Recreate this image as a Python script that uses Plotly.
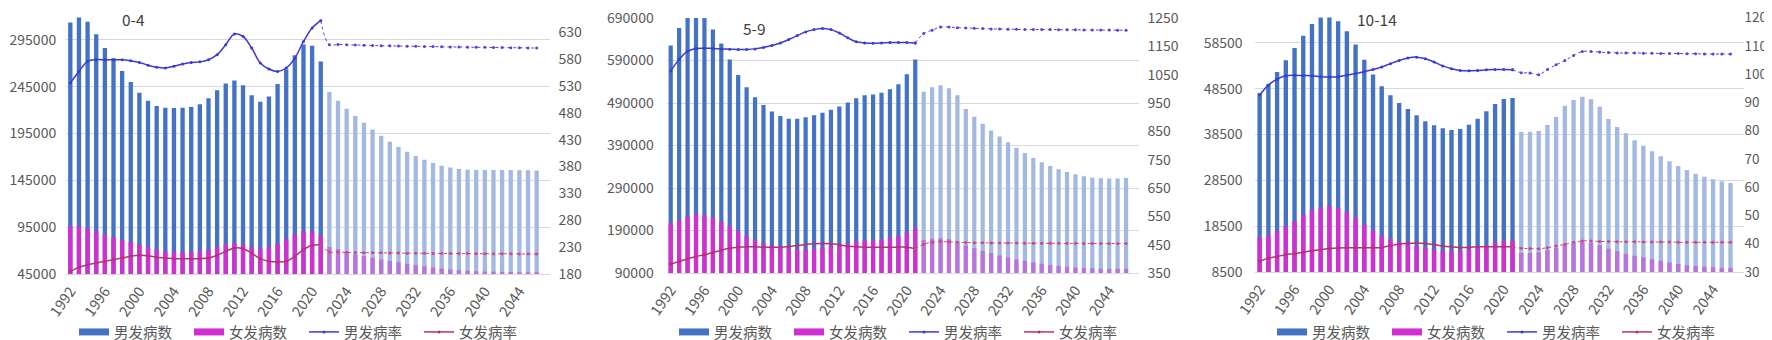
import plotly.graph_objects as go

# ---------------- data ----------------
years = list(range(1992, 2047))
last_observed_year = 2021
tick_years = list(range(1992, 2045, 4))
panel_titles = ["0-4", "5-9", "10-14"]
legend_names = ["男发病数", "女发病数", "男发病率", "女发病率"]

# 0-4
male_cases_0_4 = [313500, 318900, 314200, 301000, 286400, 275400, 261800, 250000, 238600, 230100,
                  224400, 222600, 222200, 222600, 223300, 226200, 232600, 241100, 248300, 251500,
                  246500, 235800, 229000, 234400, 247900, 263600, 278600, 290000, 288600, 271800,
                  239300, 230100, 221500, 213700, 206500, 199400, 192600, 186200, 180500, 175500,
                  170900, 167000, 163400, 160500, 158800, 157000, 156300, 156000, 156000, 156000,
                  156000, 156000, 155900, 155800, 155500]
female_cases_0_4 = [96000, 96000, 94200, 90600, 87100, 84200, 81700, 79200, 76400, 73500,
                    71000, 69200, 68500, 68200, 68500, 69200, 71000, 73500, 76400, 77800,
                    76400, 73500, 72100, 73500, 77100, 82400, 87100, 90600, 90600, 85300,
                    73700, 71400, 68400, 66000, 64000, 62300, 60600, 59000, 57500, 56000,
                    54500, 53300, 52000, 50800, 49800, 49000, 48400, 48000, 47700, 47500,
                    47300, 47100, 47000, 46900, 46800]
male_rate_0_4 = [535.7, 557, 576, 579, 579, 579, 579, 577, 574, 568.6,
                 565, 563.6, 567, 571, 574, 575, 579, 588.4, 607, 627,
                 622.6, 600.8, 573, 561.7, 557, 563.6, 582, 613, 638, 651.7,
                 607, 607.5, 607, 606.5, 606, 605.5, 605, 604.8, 604.5, 604.2,
                 604, 603.7, 603.4, 603.1, 602.9, 602.6, 602.4, 602.2, 602, 601.8,
                 601.6, 601.4, 601.2, 601, 600.6]
female_rate_0_4 = [185, 192.4, 197.4, 200.5, 203.6, 206.7, 209.8, 212.9, 214.8, 214,
                   211, 209.8, 208.6, 208.6, 208.6, 208.6, 209.8, 214.8, 222.2, 228.4,
                   227, 219, 208.6, 203.6, 202.3, 203.6, 212.9, 225.3, 233.4, 234.6,
                   221, 220.6, 220.3, 220, 219.8, 219.6, 219.4, 219.2, 219, 218.8,
                   218.6, 218.5, 218.4, 218.3, 218.2, 218.1, 218, 217.9, 217.8, 217.7,
                   217.6, 217.5, 217.4, 217.3, 217.2]

# 5-9
male_cases_5_9 = [625300, 666600, 700000, 705000, 700000, 662700, 630000, 592600, 556000, 527100,
                  503800, 485100, 470200, 459300, 453100, 453100, 456200, 460900, 467100, 474100,
                  481900, 491300, 501400, 508400, 510000, 513900, 522500, 534100, 557500, 592600,
                  516200, 527100, 531800, 524800, 508400, 475700, 457800, 441400, 425100, 411000,
                  397800, 384500, 372100, 360400, 350300, 341700, 333900, 327700, 322200, 317500,
                  314400, 312900, 312100, 312100, 313600]
female_cases_5_9 = [206900, 214700, 223200, 228700, 226400, 220100, 210800, 201400, 189000, 177300,
                    167900, 160100, 154700, 150800, 146900, 144500, 145300, 146900, 150000, 153100,
                    156200, 160100, 164000, 166400, 167100, 168700, 173400, 177300, 185800, 195200,
                    167900, 170300, 171800, 169500, 164000, 154700, 148400, 142200, 136800, 131300,
                    126600, 121900, 118800, 114900, 111800, 108700, 106400, 104800, 103200, 101700,
                    100900, 100100, 100100, 100100, 100100]
male_rate_5_9 = [1063, 1104, 1133, 1142.5, 1143.6, 1142.5, 1141, 1140, 1139, 1139,
                 1141, 1146, 1153, 1162, 1174, 1188, 1201, 1209, 1212.6, 1209,
                 1197, 1180, 1166, 1162, 1161, 1162, 1163.5, 1163.5, 1163.5, 1162,
                 1195, 1207, 1218, 1218, 1216, 1215, 1213.7, 1212.6, 1211.5, 1211,
                 1210.5, 1210, 1209.8, 1209.5, 1209.2, 1209, 1208.8, 1208.5, 1208.2, 1208,
                 1207.8, 1207.5, 1207.3, 1207.1, 1207]
female_rate_5_9 = [381.6, 390.9, 400.3, 408.4, 414.3, 422.5, 430.6, 437.7, 441.2, 442.3,
                   442.3, 441.2, 441.2, 441.2, 443.5, 447, 450.5, 452.9, 454, 452.9,
                   449.4, 444.7, 442.3, 441.2, 441.2, 441.2, 441.2, 441.2, 441.2, 435.3,
                   451.7, 458.7, 461, 459.9, 458.7, 457.5, 457, 456.5, 456.2, 456,
                   455.8, 455.6, 455.4, 455.2, 455, 454.9, 454.8, 454.7, 454.6, 454.5,
                   454.4, 454.3, 454.2, 454.1, 454]

# 10-14
male_cases_10_14 = [47580, 49550, 52170, 54720, 57410, 60100, 62650, 64100, 64470, 63230,
                    61050, 58140, 54860, 51590, 49040, 47070, 45400, 44090, 42710, 41400,
                    40520, 39870, 39500, 39720, 40670, 41980, 43580, 45180, 46270, 46490,
                    39070, 39140, 39290, 40600, 42340, 44820, 46050, 46780, 46200, 44600,
                    41910, 40160, 38780, 37250, 36080, 34850, 33750, 32660, 31640, 30770,
                    29970, 29320, 28730, 28300, 27930]
female_cases_10_14 = [16070, 16510, 17520, 18470, 19560, 21020, 22110, 22620, 22840, 22470,
                      21530, 20290, 18830, 17600, 16430, 15780, 15050, 14610, 14180, 13740,
                      13380, 13160, 13010, 13090, 13450, 13890, 14320, 14900, 15270, 15340,
                      12650, 12650, 12790, 13230, 13740, 14470, 14760, 14980, 14830, 14320,
                      13590, 13010, 12500, 12070, 11700, 11300, 10950, 10600, 10250, 9950,
                      9800, 9650, 9520, 9420, 9370]
male_rate_10_14 = [92.6, 96.1, 98.2, 99.4, 99.6, 99.5, 99.4, 99.1, 99.0, 99.1,
                   99.6, 100.2, 100.8, 101.6, 102.5, 103.7, 104.8, 105.7, 106, 105.4,
                   104.3, 102.9, 101.9, 101.3, 101.2, 101.3, 101.5, 101.6, 101.6, 101.5,
                   100.5, 100.4, 99.8, 101.6, 103.3, 104.8, 106.6, 108, 108, 107.8,
                   107.6, 107.5, 107.5, 107.5, 107.4, 107.4, 107.3, 107.3, 107.3, 107.2,
                   107.2, 107.1, 107.1, 107.1, 107.1]
female_rate_10_14 = [33.7, 34.9, 35.5, 36.1, 36.5, 37, 37.5, 37.9, 38.3, 38.5,
                     38.6, 38.6, 38.6, 38.6, 38.7, 39.3, 39.9, 40.1, 40.3, 40.1,
                     39.7, 39.2, 38.9, 38.7, 38.7, 38.9, 38.9, 38.9, 38.9, 38.9,
                     38.4, 38.3, 38.2, 38.6, 39.2, 39.8, 40.5, 41, 41, 40.8,
                     40.8, 40.7, 40.7, 40.7, 40.6, 40.6, 40.6, 40.6, 40.5, 40.5,
                     40.5, 40.5, 40.5, 40.5, 40.5]

male_cases = [male_cases_0_4, male_cases_5_9, male_cases_10_14]
female_cases = [female_cases_0_4, female_cases_5_9, female_cases_10_14]
male_rates = [male_rate_0_4, male_rate_5_9, male_rate_10_14]
female_rates = [female_rate_0_4, female_rate_5_9, female_rate_10_14]

# ---------------- layout / style ----------------
W, H = 1772, 340
FONT = "Noto Sans CJK SC, Noto Sans, sans-serif"
GRAY = "#595959"
X_TICK_SIZE = 14.5
Y_TICK_SIZE = 14
C_M = "#4472C4"
C_F = "#D22FD2"
C_M_FC = "#A4B9E1"
C_F_FC = "#B873DC"
C_MR = "#3B3BD4"
C_FR = "#B8336E"
C_MR_FC = "#4F44DA"
C_FR_FC = "#D2457C"

# pixel geometry of each panel: (left, right, top, bottom)
panel_px = [(58, 541.6, 0, 266), (658.5, 1130.7, 10, 265), (1247.3, 1735.6, 9.5, 264)]
left_ranges = [(45000, 329000), (90000, 690000), (8500, 64060)]
left_dticks = [50000, 100000, 10000]
right_ranges = [(180, 675.3), (350, 1250), (30, 120.02)]
right_dticks = [50, 100, 10]
left_ticklen = [6, 9, 9]
right_ticklen = [5, 5, 0]
title_px = [(125, 11), (746, 20), (1369, 11.5)]
legend_px = [66, 666, 1264]

hist_idx = [i for i, yv in enumerate(years) if yv <= last_observed_year]
fc_idx = [i for i, yv in enumerate(years) if yv > last_observed_year]
fc_line_idx = [i for i, yv in enumerate(years) if yv >= last_observed_year]


def sel(arr, idx):
    return [arr[i] for i in idx]


fig = go.Figure()
layout = dict(
    width=W, height=H, margin=dict(l=0, r=0, t=0, b=0, autoexpand=False),
    paper_bgcolor="white", plot_bgcolor="rgba(0,0,0,0)",
    barmode="overlay", font=dict(family=FONT, color=GRAY, size=13),
    annotations=[], hovermode=False,
)

for p in range(3):
    xa = "x" if p == 0 else f"x{p + 1}"
    ya = "y" if p == 0 else f"y{2 * p + 1}"
    ya2 = f"y{2 * p + 2}"
    lg = "legend" if p == 0 else f"legend{p + 1}"
    mc, fcs, mr, fr = male_cases[p], female_cases[p], male_rates[p], female_rates[p]

    # legend proxies for bar series (wide rectangle swatch)
    for name, col in ((legend_names[0], C_M), (legend_names[1], C_F)):
        fig.add_trace(go.Scatter(x=[None], y=[None], mode="lines", name=name,
                                 line=dict(color=col, width=7), xaxis=xa, yaxis=ya,
                                 legend=lg, showlegend=True))
    # bars
    fig.add_trace(go.Bar(x=sel(years, hist_idx), y=sel(mc, hist_idx), width=0.5,
                         marker=dict(color=C_M, line=dict(width=0)), xaxis=xa, yaxis=ya,
                         showlegend=False))
    fig.add_trace(go.Bar(x=sel(years, fc_idx), y=sel(mc, fc_idx), width=0.5,
                         marker=dict(color=C_M_FC, line=dict(width=0)), xaxis=xa, yaxis=ya,
                         showlegend=False))
    fig.add_trace(go.Bar(x=sel(years, hist_idx), y=sel(fcs, hist_idx), width=0.5,
                         marker=dict(color=C_F, line=dict(width=0)), xaxis=xa, yaxis=ya,
                         showlegend=False))
    fig.add_trace(go.Bar(x=sel(years, fc_idx), y=sel(fcs, fc_idx), width=0.5,
                         marker=dict(color=C_F_FC, line=dict(width=0)), xaxis=xa, yaxis=ya,
                         showlegend=False))
    # rate lines (historical: smooth solid; forecast: dotted)
    fig.add_trace(go.Scatter(x=sel(years, hist_idx), y=sel(mr, hist_idx), mode="lines+markers",
                             name=legend_names[2], line=dict(color=C_MR, width=1.5, shape="spline"),
                             marker=dict(size=3, color=C_MR), xaxis=xa, yaxis=ya2,
                             legend=lg, showlegend=True))
    fig.add_trace(go.Scatter(x=sel(years, hist_idx), y=sel(fr, hist_idx), mode="lines+markers",
                             name=legend_names[3], line=dict(color=C_FR, width=1.5, shape="spline"),
                             marker=dict(size=3, color=C_FR), xaxis=xa, yaxis=ya2,
                             legend=lg, showlegend=True))
    fig.add_trace(go.Scatter(x=sel(years, fc_line_idx), y=sel(mr, fc_line_idx), mode="lines+markers",
                             line=dict(color=C_MR_FC, width=1, dash="dot", shape="spline"),
                             marker=dict(size=3, color=C_MR_FC), xaxis=xa, yaxis=ya2,
                             showlegend=False))
    fig.add_trace(go.Scatter(x=sel(years, fc_line_idx), y=sel(fr, fc_line_idx), mode="lines+markers",
                             line=dict(color=C_FR_FC, width=1, dash="dot", shape="spline"),
                             marker=dict(size=3, color=C_FR_FC), xaxis=xa, yaxis=ya2,
                             showlegend=False))

    l, r, t, b = panel_px[p]
    xdom = [l / W, r / W]
    ydom = [1 - b / H, 1 - t / H]
    xkey = "xaxis" if p == 0 else f"xaxis{p + 1}"
    ykey = "yaxis" if p == 0 else f"yaxis{2 * p + 1}"
    y2key = f"yaxis{2 * p + 2}"
    layout[xkey] = dict(domain=xdom, anchor=ya, range=[1991.5, 2047.5], automargin=False,
                        tickmode="array", tickvals=tick_years,
                        ticktext=[str(v) for v in tick_years], tickangle=-55,
                        showgrid=False, zeroline=False, showline=True, linecolor="#D9D9D9",
                        ticks="outside", ticklen=2, tickcolor="rgba(0,0,0,0)",
                        tickfont=dict(size=X_TICK_SIZE, color=GRAY, family=FONT))
    layout[ykey] = dict(domain=ydom, anchor=xa, range=list(left_ranges[p]), automargin=False,
                        tick0=left_ranges[p][0], dtick=left_dticks[p], tickformat="d",
                        showgrid=True, gridcolor="#D9D9D9", gridwidth=1, zeroline=False,
                        showline=False, ticks="outside", ticklen=left_ticklen[p],
                        tickcolor="rgba(0,0,0,0)", ticklabeloverflow="allow",
                        tickfont=dict(size=Y_TICK_SIZE, color=GRAY, family=FONT))
    layout[y2key] = dict(overlaying=ya, anchor=xa, side="right", range=list(right_ranges[p]),
                         automargin=False, ticklabeloverflow="allow",
                         tick0=right_ranges[p][0], dtick=right_dticks[p], tickformat="d",
                         showgrid=False, zeroline=False, showline=False,
                         ticks="outside" if right_ticklen[p] > 0 else "",
                         ticklen=max(right_ticklen[p], 1), tickcolor="rgba(0,0,0,0)",
                         tickfont=dict(size=Y_TICK_SIZE if p < 2 else 13.5, color=GRAY, family=FONT))
    layout[lg] = dict(orientation="h", x=legend_px[p] / W, y=0,
                      xanchor="left", yanchor="bottom", bgcolor="rgba(0,0,0,0)",
                      font=dict(size=14.5, color=GRAY, family=FONT),
                      entrywidth=70, entrywidthmode="pixels", itemwidth=30,
                      traceorder="normal")
    tx, ty = title_px[p]
    layout["annotations"].append(dict(text=panel_titles[p], x=tx / W, y=1 - ty / H,
                                      xref="paper", yref="paper", showarrow=False,
                                      xanchor="center", yanchor="middle",
                                      font=dict(size=15.5, color="#404040", family=FONT)))

fig.update_layout(**layout)
fig.write_html("out.html")
